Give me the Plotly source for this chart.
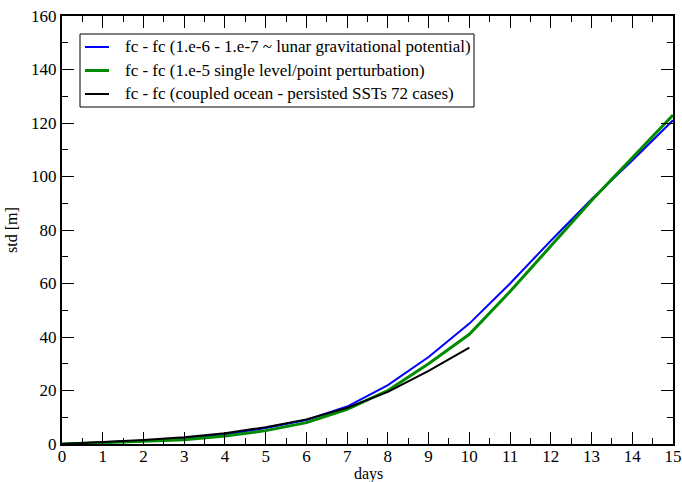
import plotly.graph_objects as go

# Forecast-difference growth (standard deviation in metres) by forecast day
days = list(range(0, 16))
lunar_std = [0.0, 0.5, 1.2, 2.0, 3.5, 6.0, 9.0, 14.0, 22.0, 32.5, 45.0, 60.0, 76.0, 91.5, 106.0, 121.0]
single_point_std = [0.0, 0.4, 1.0, 1.6, 3.0, 5.0, 8.0, 13.0, 20.0, 30.0, 41.0, 57.0, 74.0, 91.0, 107.0, 123.0]

ocean_days = list(range(0, 11))
ocean_std = [0.0, 0.7, 1.5, 2.5, 4.0, 6.3, 9.2, 13.5, 19.5, 27.3, 36.0]

labels = [
    "fc - fc (1.e-6 - 1.e-7 ~ lunar gravitational potential)",
    "fc - fc (1.e-5 single level/point perturbation)",
    "fc - fc (coupled ocean - persisted SSTs 72 cases)",
]
colors = ["#0000ff", "#008b00", "#000000"]
widths = [2, 3, 2]

font = "Liberation Serif"
W, H = 682, 482
M = dict(l=62, r=9, t=16, b=38)
PW, PH = W - M["l"] - M["r"], H - M["t"] - M["b"]


def px(x):
    return (x - M["l"]) / PW


def py(y):
    return (H - M["b"] - y) / PH


fig = go.Figure()
for xs, ys, name, c, w in zip([days, days, ocean_days],
                              [lunar_std, single_point_std, ocean_std],
                              labels, colors, widths):
    fig.add_trace(go.Scatter(x=xs, y=ys, mode="lines", name=name, showlegend=False,
                             line=dict(color=c, width=w)))

axis_common = dict(
    showgrid=False, zeroline=False, showline=True, linecolor="black", linewidth=2,
    mirror="ticks", ticks="inside", ticklen=12, tickwidth=1, tickcolor="black",
    tickfont=dict(family=font, size=17, color="black"), automargin=False,
)

fig.update_xaxes(range=[0, 15], dtick=1, tick0=0, ticklabelstandoff=-4,
                 minor=dict(dtick=0.5, ticks="inside", ticklen=6, tickcolor="black", showgrid=False),
                 **axis_common)
fig.update_yaxes(range=[0, 160], dtick=20, tick0=0,
                 minor=dict(dtick=10, ticks="inside", ticklen=6, tickcolor="black", showgrid=False),
                 **axis_common)

# Axis titles
fig.add_annotation(text="days", xref="paper", yref="paper", x=px(368), y=py(474),
                   showarrow=False, xanchor="center", yanchor="middle",
                   font=dict(family=font, size=16, color="black"))
fig.add_annotation(text="std [m]", xref="paper", yref="paper", x=px(11), y=py(230),
                   showarrow=False, xanchor="center", yanchor="middle", textangle=-90,
                   font=dict(family=font, size=16, color="black"))

# Legend box with line samples and labels
fig.add_shape(type="rect", xref="paper", yref="paper",
              x0=px(80), x1=px(474), y0=py(34), y1=py(107),
              line=dict(color="black", width=1), fillcolor="white", layer="above")
row_y = [47, 70.5, 94]
for name, c, w, yy in zip(labels, colors, widths, row_y):
    fig.add_shape(type="line", xref="paper", yref="paper",
                  x0=px(85), x1=px(109), y0=py(yy), y1=py(yy),
                  line=dict(color=c, width=w), layer="above")
    fig.add_annotation(text=name, xref="paper", yref="paper", x=px(123), y=py(yy),
                       showarrow=False, xanchor="left", yanchor="middle",
                       font=dict(family=font, size=17, color="black"))

fig.update_layout(
    width=W, height=H, margin=M,
    paper_bgcolor="white", plot_bgcolor="white",
    font=dict(family=font, size=17, color="black"),
    showlegend=False,
)

fig.write_html("out.html")
